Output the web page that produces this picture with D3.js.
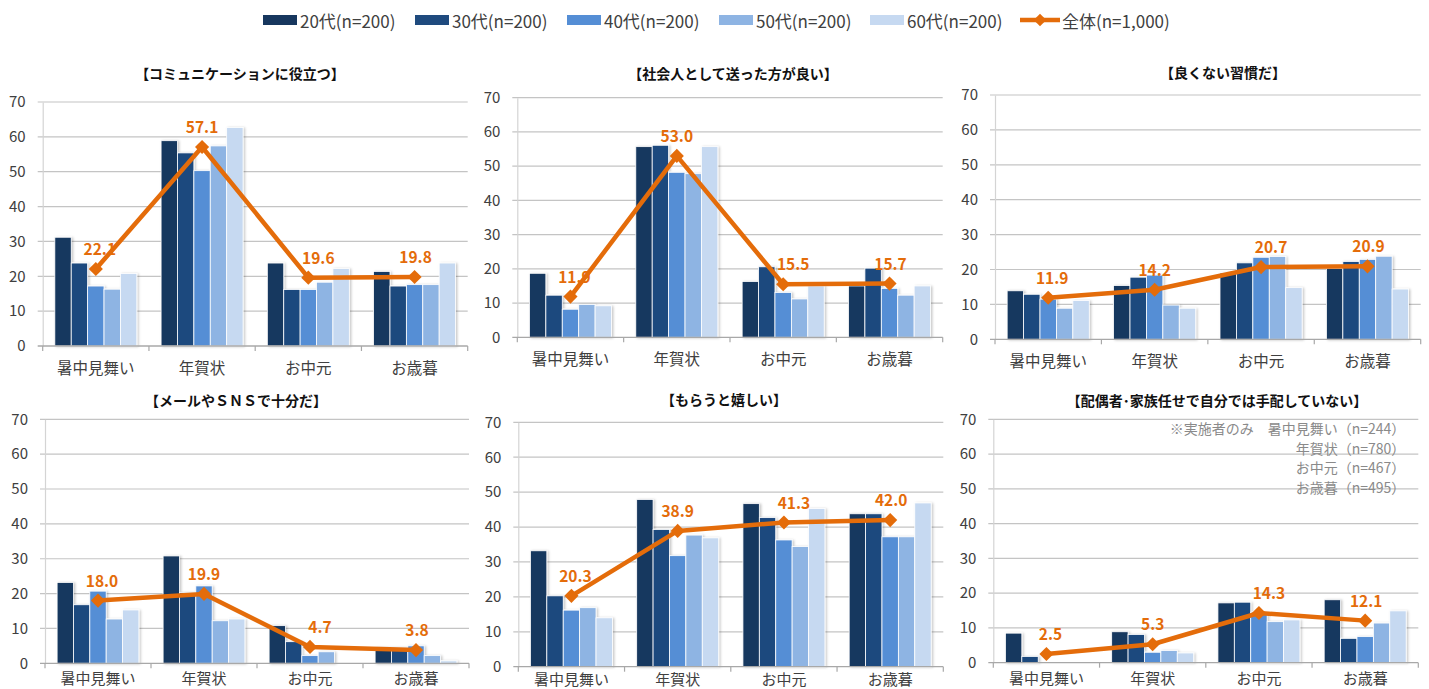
<!DOCTYPE html>
<html lang="ja">
<head>
<meta charset="utf-8">
<script src="https://cdn.jsdelivr.net/npm/d3@7"></script>
<style>
  html, body { margin: 0; padding: 0; background: #ffffff; }
  svg { display: block; }
  text { font-family: "Noto Sans CJK JP", "Noto Sans", sans-serif; }
</style>
</head>
<body>
<svg id="chart" width="1429" height="689"></svg>
<script>
// ---- data ----
const categories = ["暑中見舞い", "年賀状", "お中元", "お歳暮"];
const seriesNames = ["20代(n=200)", "30代(n=200)", "40代(n=200)", "50代(n=200)", "60代(n=200)"];
const overallName = "全体(n=1,000)";
const yTicks = [0, 10, 20, 30, 40, 50, 60, 70];

const panelTitles = [
  "【コミュニケーションに役立つ】",
  "【社会人として送った方が良い】",
  "【良くない習慣だ】",
  "【メールやＳＮＳで十分だ】",
  "【もらうと嬉しい】",
  "【配偶者･家族任せで自分では手配していない】"
];

// each row: one age group, values per category (暑中見舞い, 年賀状, お中元, お歳暮)
const communication = [
  [31.2, 58.9, 23.8, 21.4],
  [23.8, 55.4, 16.2, 17.2],
  [17.2, 50.3, 16.2, 17.6],
  [16.3, 57.4, 18.3, 17.6],
  [20.8, 62.7, 22.2, 23.8]
];
const communicationTotal = [22.1, 57.1, 19.6, 19.8];

const businessManners = [
  [18.7, 55.7, 16.3, 15.0],
  [12.3, 56.1, 20.6, 20.2],
  [8.2, 48.2, 13.1, 14.3],
  [9.6, 47.8, 11.2, 12.3],
  [9.2, 55.7, 15.0, 15.0]
];
const businessMannersTotal = [11.9, 53.0, 15.5, 15.7];

const badHabit = [
  [13.9, 15.4, 19.0, 20.3],
  [12.9, 17.8, 21.9, 22.3],
  [11.5, 18.4, 23.5, 22.9],
  [8.9, 9.8, 23.7, 23.8],
  [11.1, 8.9, 14.8, 14.4]
];
const badHabitTotal = [11.9, 14.2, 20.7, 20.9];

const emailEnough = [
  [23.2, 30.8, 10.8, 4.5],
  [16.8, 20.3, 6.2, 4.5],
  [20.7, 22.2, 2.2, 5.0],
  [12.7, 12.2, 3.3, 2.2],
  [15.3, 12.7, 0.0, 0.7]
];
const emailEnoughTotal = [18.0, 19.9, 4.7, 3.8];

const gladToReceive = [
  [33.2, 47.9, 46.7, 43.8],
  [20.3, 39.3, 42.7, 43.8],
  [16.2, 31.8, 36.3, 37.2],
  [16.9, 37.7, 34.4, 37.2],
  [14.0, 36.9, 45.3, 46.9]
];
const gladToReceiveTotal = [20.3, 38.9, 41.3, 42.0];

const leftToFamily = [
  [8.5, 8.9, 17.2, 18.1],
  [1.8, 8.1, 17.4, 7.0],
  [0.0, 3.0, 14.5, 7.5],
  [0.0, 3.5, 11.8, 11.4],
  [0.0, 2.8, 12.3, 14.9]
];
const leftToFamilyTotal = [2.5, 5.3, 14.3, 12.1];

const respondentNote = [
  "※実施者のみ　暑中見舞い（n=244）",
  "年賀状（n=780）",
  "お中元（n=467）",
  "お歳暮（n=495）"
];

const panelValues = [communication, businessManners, badHabit, emailEnough, gladToReceive, leftToFamily];
const panelTotals = [communicationTotal, businessMannersTotal, badHabitTotal, emailEnoughTotal, gladToReceiveTotal, leftToFamilyTotal];

// ---- styling / layout ----
const seriesColors = ["#17375e", "#1f4a7e", "#558ed5", "#8eb4e3", "#c6d9f1"];
const lineColor = "#e46c0a";
const textColor = "#404040";

// labelY: vertical centre of the category labels; labelSize: their font size
const panelBoxes = [
  { x0: 42.7,  x1: 467.7,  y0: 102,   y1: 346,   tx: 240,  ty: 72.5,  labelY: 366.5, labelSize: 15.5 },
  { x0: 517.3, x1: 942.7,  y0: 97.7,  y1: 337.3, tx: 733,  ty: 72.5,  labelY: 357.8, labelSize: 15.5 },
  { x0: 995,   x1: 1420.7, y0: 95,    y1: 339.3, tx: 1223, ty: 72,    labelY: 359.8, labelSize: 15.5 },
  { x0: 45,    x1: 469,    y0: 419.3, y1: 663.3, tx: 236,  ty: 400,   labelY: 677,   labelSize: 15 },
  { x0: 518.3, x1: 943.3,  y0: 422.3, y1: 666.7, tx: 724,  ty: 398.5, labelY: 678,   labelSize: 15 },
  { x0: 993.3, x1: 1418.3, y0: 419.3, y1: 662.7, tx: 1217, ty: 400,   labelY: 677,   labelSize: 15 }
];
// horizontal nudge of the total value label for each category
const labelNudge = [4, 0, 10, 1];

const svg = d3.select("#chart");

// soft shadow on the bars
const defs = svg.append("defs");
const shadow = defs.append("filter").attr("id", "barShadow")
  .attr("x", "-20%").attr("y", "-10%").attr("width", "150%").attr("height", "130%");
shadow.append("feDropShadow").attr("dx", 1.5).attr("dy", 0.5)
  .attr("stdDeviation", 1).attr("flood-color", "#000").attr("flood-opacity", 0.22);

// ---- legend ----
const legendX = [263, 415, 567, 719, 870];
const legend = svg.append("g");
seriesNames.forEach((name, i) => {
  legend.append("rect")
    .attr("x", legendX[i]).attr("y", 15).attr("width", 34).attr("height", 10)
    .attr("fill", seriesColors[i]);
  legend.append("text")
    .attr("x", legendX[i] + 37).attr("y", 20)
    .attr("dominant-baseline", "central")
    .attr("font-size", 17).attr("fill", textColor)
    .text(name);
});
legend.append("line")
  .attr("x1", 1020).attr("x2", 1060).attr("y1", 20).attr("y2", 20)
  .attr("stroke", lineColor).attr("stroke-width", 4.5);
legend.append("path")
  .attr("d", d3.symbol(d3.symbolSquare, 80)())
  .attr("transform", "translate(1040,20) rotate(45)")
  .attr("fill", lineColor);
legend.append("text")
  .attr("x", 1062).attr("y", 20)
  .attr("dominant-baseline", "central")
  .attr("font-size", 17).attr("fill", textColor)
  .text(overallName);

// ---- panels ----
panelBoxes.forEach((box, p) => {
  const g = svg.append("g");
  const values = panelValues[p];
  const totals = panelTotals[p];

  const x = d3.scaleBand().domain(categories).range([box.x0, box.x1]).padding(0);
  const xs = d3.scaleBand().domain(d3.range(seriesNames.length))
    .range([0, x.bandwidth()]).paddingInner(0).paddingOuter(0.74);
  const y = d3.scaleLinear().domain([0, 70]).range([box.y1, box.y0]);

  // gridlines
  g.append("g").selectAll("line").data(yTicks.filter(t => t > 0)).join("line")
    .attr("x1", box.x0 - 5).attr("x2", box.x1)
    .attr("y1", d => y(d)).attr("y2", d => y(d))
    .attr("stroke", "#c4c4c4").attr("stroke-width", 1.2);

  // y axis
  const yAxis = g.append("g")
    .attr("transform", `translate(${box.x0},0)`)
    .call(d3.axisLeft(y).tickValues(yTicks).tickSize(0).tickPadding(17).tickFormat(d3.format("d")));
  yAxis.select(".domain").attr("stroke", "#d4d4d4").attr("stroke-width", 1.2);
  yAxis.selectAll("text").attr("font-size", 15).attr("fill", textColor)
    .attr("font-family", "'Open Sans', 'Noto Sans', sans-serif");

  // bars
  const barData = [];
  values.forEach((row, s) => row.forEach((v, c) => barData.push({ s, c, v })));
  g.append("g").attr("filter", "url(#barShadow)")
    .selectAll("rect").data(barData).join("rect")
    .attr("x", d => x(categories[d.c]) + xs(d.s))
    .attr("width", xs.bandwidth())
    .attr("y", d => y(d.v))
    .attr("height", d => y(0) - y(d.v))
    .attr("fill", d => seriesColors[d.s])
    .attr("stroke", "#ffffff").attr("stroke-width", 0.8);

  // x axis
  const xAxis = g.append("g").attr("transform", `translate(0,${box.y1})`);
  xAxis.append("line")
    .attr("x1", box.x0 - 5).attr("x2", box.x1)
    .attr("stroke", "#a8a8a8").attr("stroke-width", 1.3);
  const bounds = categories.map(c => x(c)).concat([box.x1]);
  xAxis.selectAll("line.tick").data(bounds).join("line")
    .attr("class", "tick")
    .attr("x1", d => d).attr("x2", d => d).attr("y1", 0).attr("y2", 5)
    .attr("stroke", "#a8a8a8").attr("stroke-width", 1.2);
  g.append("g").selectAll("text").data(categories).join("text")
    .attr("x", d => x(d) + x.bandwidth() / 2)
    .attr("y", box.labelY)
    .attr("text-anchor", "middle").attr("dominant-baseline", "central")
    .attr("font-size", box.labelSize).attr("fill", textColor)
    .text(d => d);

  const cx = c => x(c) + x.bandwidth() / 2;

  // total value labels (drawn beneath the line)
  g.append("g").selectAll("text").data(totals).join("text")
    .attr("x", (d, i) => cx(categories[i]) + labelNudge[i])
    .attr("y", d => y(d) - 21)
    .attr("text-anchor", "middle").attr("dominant-baseline", "central")
    .attr("font-size", 15.5).attr("font-weight", 700)
    .attr("font-family", "'Open Sans', 'Noto Sans', sans-serif")
    .attr("fill", lineColor)
    .text(d => d.toFixed(1));

  // overall line with diamond markers
  const line = d3.line().x((d, i) => cx(categories[i])).y(d => y(d));
  g.append("path").datum(totals)
    .attr("d", line)
    .attr("fill", "none").attr("stroke", lineColor)
    .attr("stroke-width", 4.5).attr("stroke-linejoin", "round");
  g.append("g").selectAll("path").data(totals).join("path")
    .attr("d", d3.symbol(d3.symbolSquare, 100)())
    .attr("transform", (d, i) => `translate(${cx(categories[i])},${y(d)}) rotate(45)`)
    .attr("fill", lineColor);

  // panel title
  g.append("text")
    .attr("x", box.tx).attr("y", box.ty)
    .attr("text-anchor", "middle").attr("dominant-baseline", "central")
    .attr("font-size", 14).attr("font-weight", 700).attr("fill", "#111")
    .text(panelTitles[p]);

  // respondent note on the last panel
  if (p === panelBoxes.length - 1) {
    g.append("g").selectAll("text").data(respondentNote).join("text")
      .attr("x", box.x1 - 13)
      .attr("y", (d, i) => 428 + i * 19.5)
      .attr("text-anchor", "end").attr("dominant-baseline", "central")
      .attr("font-size", 14).attr("fill", "#8a8a8a")
      .text(d => d);
  }
});
</script>
</body>
</html>
